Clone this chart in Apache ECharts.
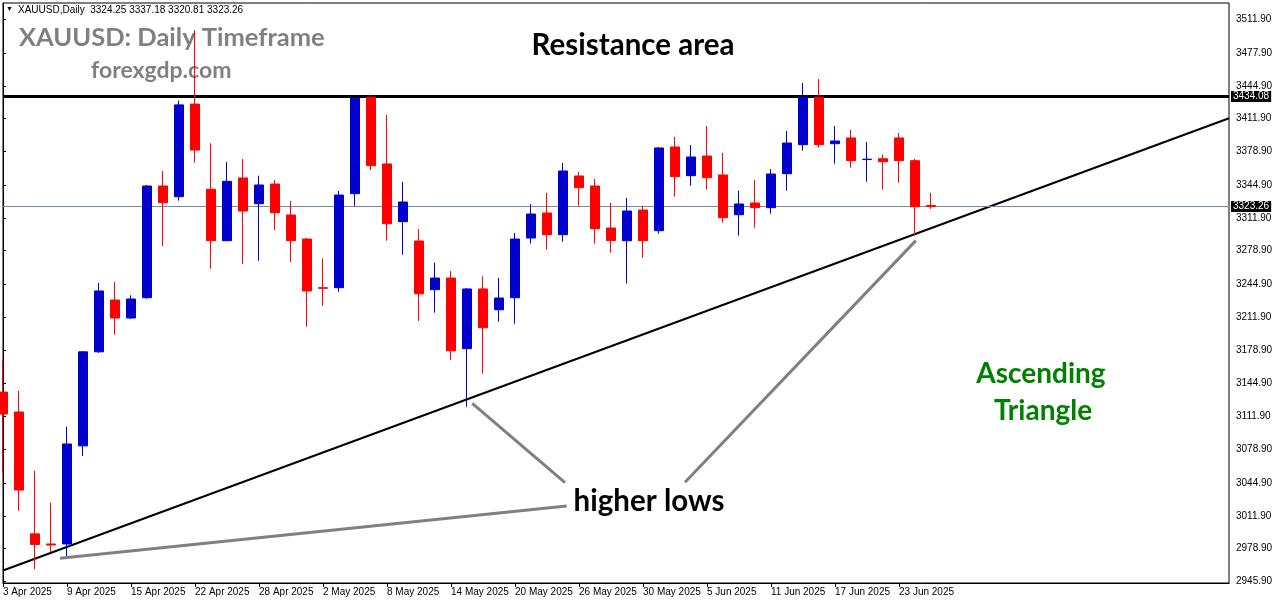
<!DOCTYPE html>
<html><head><meta charset="utf-8">
<script src="https://cdn.jsdelivr.net/npm/echarts@6/dist/echarts.min.js"></script>
<style>html,body{margin:0;padding:0;background:#fff}#c{width:1276px;height:604px}</style>
</head><body><div id="c"></div>
<script>
// ---- data ----
const dates = ['3 Apr','4 Apr','7 Apr','8 Apr','9 Apr','10 Apr','11 Apr','14 Apr','15 Apr','16 Apr','17 Apr','21 Apr','22 Apr','23 Apr','24 Apr','25 Apr','28 Apr','29 Apr','30 Apr','1 May','2 May','5 May','6 May','7 May','8 May','9 May','12 May','13 May','14 May','15 May','16 May','19 May','20 May','21 May','22 May','23 May','26 May','27 May','28 May','29 May','30 May','2 Jun','3 Jun','4 Jun','5 Jun','6 Jun','9 Jun','10 Jun','11 Jun','12 Jun','13 Jun','16 Jun','17 Jun','18 Jun','19 Jun','20 Jun','23 Jun','24 Jun','25 Jun'];
const openP  = [3136.5,3116.4,2993.7,2983.5,2983.5,3082.3,3177.0,3229.2,3211.1,3231.5,3344.0,3333.2,3426.5,3340.7,3288.9,3352.1,3326.2,3346.0,3314.8,3290.6,3241.6,3241.6,3336.3,3433.3,3366.2,3308.1,3288.6,3239.6,3251.3,3180.2,3240.3,3219.4,3231.5,3291.6,3316.8,3295.0,3354.1,3344.0,3301.7,3288.9,3319.8,3299.0,3383.3,3354.4,3374.2,3355.1,3315.1,3326.9,3322.2,3356.4,3385.6,3433.3,3386.6,3392.4,3370.6,3371.5,3392.4,3369.5,3324.25];
const closeP = [3114.4,3037.8,2982.9,2982.5,3084.2,3177.0,3238.3,3211.1,3230.2,3344.0,3327.2,3425.7,3380.2,3288.9,3348.7,3318.8,3345.0,3317.1,3288.9,3238.3,3241.0,3334.9,3432.3,3364.5,3306.0,3327.9,3235.5,3251.3,3178.1,3240.3,3201.3,3231.2,3290.6,3315.8,3295.0,3359.1,3342.3,3301.0,3289.0,3318.8,3288.9,3382.3,3353.4,3373.2,3352.4,3312.1,3325.9,3322.2,3356.1,3387.3,3433.3,3385.6,3389.3,3369.5,3371.0,3368.5,3369.5,3323.2,3323.26];
const lowP   = [3055.0,3017.0,2958.0,2975.0,2970.7,3072.0,3176.0,3194.3,3210.0,3230.5,3283.6,3329.2,3367.5,3260.8,3288.9,3265.5,3268.8,3299.7,3267.5,3202.3,3223.2,3237.6,3323.9,3360.1,3289.0,3274.9,3208.0,3216.4,3168.8,3121.8,3155.0,3207.4,3205.3,3286.0,3280.0,3287.9,3324.2,3286.0,3276.9,3246.0,3271.8,3296.0,3333.3,3344.3,3340.3,3307.1,3294.0,3302.0,3316.1,3339.3,3379.6,3382.6,3366.5,3362.5,3348.3,3340.3,3347.3,3294.0,3320.81];
const highP  = [3168.7,3137.9,3057.3,3025.0,3101.6,3177.6,3246.3,3247.3,3234.0,3345.0,3359.1,3430.0,3501.0,3387.0,3368.2,3371.2,3354.4,3350.0,3328.9,3291.6,3270.8,3339.0,3433.3,3436.0,3415.5,3348.1,3300.7,3266.8,3258.4,3241.3,3253.0,3251.3,3296.7,3325.9,3337.0,3367.2,3358.1,3351.0,3326.9,3331.9,3323.9,3383.3,3393.4,3385.3,3404.4,3377.2,3339.3,3350.1,3361.1,3399.4,3447.7,3451.8,3404.4,3400.4,3388.3,3375.6,3397.4,3371.5,3337.18];

const yTickLabels = ['3511.90','3477.90','3444.90','3411.90','3378.90','3344.90','3311.90','3278.90','3244.90','3211.90','3178.90','3144.90','3111.90','3078.90','3044.90','3011.90','2978.90','2945.90'];
const xTickIndex  = [0,4,8,12,16,20,24,28,32,36,40,44,48,52,56];
const xTickLabels = ['3 Apr 2025','9 Apr 2025','15 Apr 2025','22 Apr 2025','28 Apr 2025','2 May 2025','8 May 2025','14 May 2025','20 May 2025','26 May 2025','30 May 2025','5 Jun 2025','11 Jun 2025','17 Jun 2025','23 Jun 2025'];

const resistanceLevel = 3434.08;
const trendLine  = [[0, 2956.8], [76.625, 3412.2]];
const arrowLowA  = [[29.33, 3125.2], [35.125, 3045.2]];
const arrowLowB  = [[42.625, 3045.6], [57.05, 3289.0]];
const arrowLowC  = [[3.5625, 2969.1], [35.23, 3021.8]];

// ---- chart ----
const last = dates.length - 1;
const candles = dates.map((d, i) => [i, openP[i], closeP[i], lowP[i], highP[i]]);
const chart = echarts.init(document.getElementById('c'), null, {renderer: 'canvas'});
const axisFont = '"Liberation Sans",Arial,sans-serif';
const titleFont = 'Lato, "Open Sans", sans-serif';
const grey = '#808080';

chart.setOption({
  animation: false,
  backgroundColor: '#ffffff',
  grid: {left: 3, right: 47, top: 3, bottom: 21, show: true, borderColor: '#000', borderWidth: 1, backgroundColor: 'transparent'},
  xAxis: {
    type: 'value', min: 0, max: 76.625,
    axisLine: {show: true, lineStyle: {color: '#000', width: 1}},
    axisTick: {show: true, customValues: xTickIndex, length: 4, lineStyle: {color: '#000'}},
    axisLabel: {
      customValues: xTickIndex, align: 'left', margin: 4,
      fontFamily: axisFont, fontSize: 10, color: '#000',
      formatter: v => xTickLabels[xTickIndex.indexOf(Math.round(v))] || ''
    },
    splitLine: {show: false}
  },
  yAxis: {
    type: 'value', position: 'right', min: 2944.2, max: 3528.3, scale: true,
    axisLine: {show: true, lineStyle: {color: '#000', width: 1}},
    axisTick: {show: true, customValues: yTickLabels.map(Number), length: 3, lineStyle: {color: '#000'}},
    axisLabel: {
      customValues: yTickLabels.map(Number), margin: 7,
      fontFamily: axisFont, fontSize: 10, color: '#000',
      formatter: v => v.toFixed(2)
    },
    splitLine: {show: false}
  },
  graphic: [
    {type: 'text', left: 6, top: 6, z: 10, style: {text: '▼', fontSize: 7, fill: '#000'}},
    {type: 'text', x: 18, y: 10, z: 10, style: {
      text: 'XAUUSD,Daily  ' + openP[last].toFixed(2) + ' ' + highP[last].toFixed(2) + ' ' + lowP[last].toFixed(2) + ' ' + closeP[last].toFixed(2),
      fontFamily: axisFont, fontSize: 10, fill: '#000', verticalAlign: 'middle'}},
    {type: 'text', x: 19, y: 38, z: 0, style: {text: 'XAUUSD: Daily Timeframe', fontFamily: titleFont, fontWeight: 'bold', fontSize: 25.5, fill: grey, verticalAlign: 'middle'}},
    {type: 'text', x: 91, y: 71, z: 0, style: {text: 'forexgdp.com', fontFamily: titleFont, fontWeight: 'bold', fontSize: 23, fill: grey, verticalAlign: 'middle'}},
    {type: 'text', x: 633, y: 45, z: 10, style: {text: 'Resistance area', fontFamily: titleFont, fontWeight: 'bold', fontSize: 29.5, fill: '#000', align: 'center', verticalAlign: 'middle'}},
    {type: 'text', x: 649, y: 501, z: 10, style: {text: 'higher lows', fontFamily: titleFont, fontWeight: 'bold', fontSize: 29.5, fill: '#000', align: 'center', verticalAlign: 'middle'}},
    {type: 'text', x: 1041, y: 374, z: 10, style: {text: 'Ascending', fontFamily: titleFont, fontWeight: 'bold', fontSize: 28, fill: '#008000', align: 'center', verticalAlign: 'middle'}},
    {type: 'text', x: 1043, y: 411, z: 10, style: {text: 'Triangle', fontFamily: titleFont, fontWeight: 'bold', fontSize: 28, fill: '#008000', align: 'center', verticalAlign: 'middle'}}
  ],
  series: [
    {
      type: 'candlestick', data: candles, encode: {x: 0, y: [1, 2, 3, 4]},
      barWidth: 10, z: 5,
      itemStyle: {color: '#0000CC', color0: '#FF0000', borderColor: '#0000CC', borderColor0: '#FF0000', borderWidth: 1},
      markLine: {
        silent: true, symbol: 'none', animation: false,
        label: {position: 'end', distance: 2, backgroundColor: '#000', color: '#fff', fontFamily: axisFont, fontSize: 10, padding: [1, 2, 0, 2], formatter: p => p.value.toFixed(2)},
        data: [
          {yAxis: resistanceLevel, lineStyle: {color: '#000', width: 3, type: 'solid'}},
          {yAxis: closeP[last], lineStyle: {color: '#778899', width: 1, type: 'solid'}}
        ]
      }
    },
    {type: 'line', data: trendLine, symbol: 'none', z: 4, lineStyle: {color: '#000', width: 2}},
    {type: 'line', data: arrowLowA, symbol: 'none', z: 6, lineStyle: {color: grey, width: 3}},
    {type: 'line', data: arrowLowB, symbol: 'none', z: 6, lineStyle: {color: grey, width: 3}},
    {type: 'line', data: arrowLowC, symbol: 'none', z: 6, lineStyle: {color: grey, width: 3}}
  ]
});
</script></body></html>
